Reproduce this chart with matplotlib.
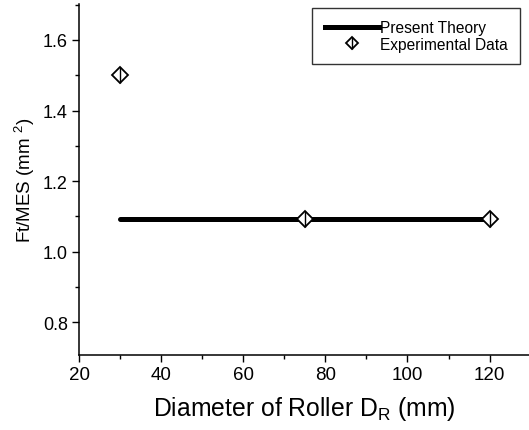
import matplotlib
matplotlib.use("Agg")
import matplotlib.pyplot as plt
from matplotlib.ticker import MultipleLocator
from matplotlib.lines import Line2D

plt.rcParams['font.family'] = ['Liberation Sans', 'DejaVu Sans']

theory_x = [30, 75, 120]
theory_y = [1.093, 1.093, 1.093]
exp_x = [30, 75, 120]
exp_y = [1.50, 1.093, 1.093]

W, H = 529, 431
fig = plt.figure(figsize=(W / 100, H / 100), dpi=100)
left, right, top, bottom = 79, 529, 5, 356
ax = fig.add_axes([left / W, 1 - bottom / H, (right - left) / W, (bottom - top) / H])

ax.plot(theory_x, theory_y, color='black', lw=3.6, solid_capstyle='round', zorder=2)
ax.plot(exp_x, exp_y, linestyle='none', marker='D', markersize=8, markerfacecolor='white',
        markeredgecolor='black', markeredgewidth=1.3, zorder=3)
ax.plot(exp_x, exp_y, linestyle='none', marker='|', markersize=11, color='black',
        markeredgewidth=1.0, zorder=4)

ax.set_xlim(20, 129.6)
ax.set_ylim(0.707, 1.702)
ax.xaxis.set_major_locator(MultipleLocator(20))
ax.xaxis.set_minor_locator(MultipleLocator(10))
ax.yaxis.set_major_locator(MultipleLocator(0.2))
ax.yaxis.set_minor_locator(MultipleLocator(0.1))
ax.spines['top'].set_visible(False)
ax.spines['right'].set_visible(False)
ax.spines['left'].set_linewidth(1.1)
ax.spines['bottom'].set_linewidth(1.1)
ax.tick_params(which='major', direction='out', length=5, width=1, labelsize=13.5, pad=3)
ax.tick_params(which='minor', direction='out', length=3, width=1)
ax.tick_params(axis='y', labelsize=13)
ax.set_yticks([0.8, 1.0, 1.2, 1.4, 1.6])
ax.set_yticklabels(['0.8', '1.0', '1.2', '1.4', '1.6'])

ax.set_xlabel(r'Diameter of Roller D$_\mathregular{R}$ (mm)', fontsize=17.8, labelpad=8)
ax.set_ylabel(r'Ft/MES (mm $^\mathregular{2}$)', fontsize=13.5, labelpad=4)

h1 = Line2D([], [], color='black', lw=3.6)
h2a = Line2D([], [], linestyle='none', marker='D', markersize=6.5, markerfacecolor='white',
             markeredgecolor='black', markeredgewidth=1.3)
h2b = Line2D([], [], linestyle='none', marker='|', markersize=9, color='black')
leg = ax.legend([h1, (h2a, h2b)], ['Present Theory', 'Experimental Data'],
                loc='upper right', bbox_to_anchor=(0.98, 0.989), borderaxespad=0,
                fontsize=11.2, frameon=True, fancybox=False, edgecolor='black',
                handlelength=3.5, handletextpad=0.05, borderpad=0.8, labelspacing=0.1)
leg.get_frame().set_linewidth(1.0)

fig.savefig('out.png', dpi=100)
